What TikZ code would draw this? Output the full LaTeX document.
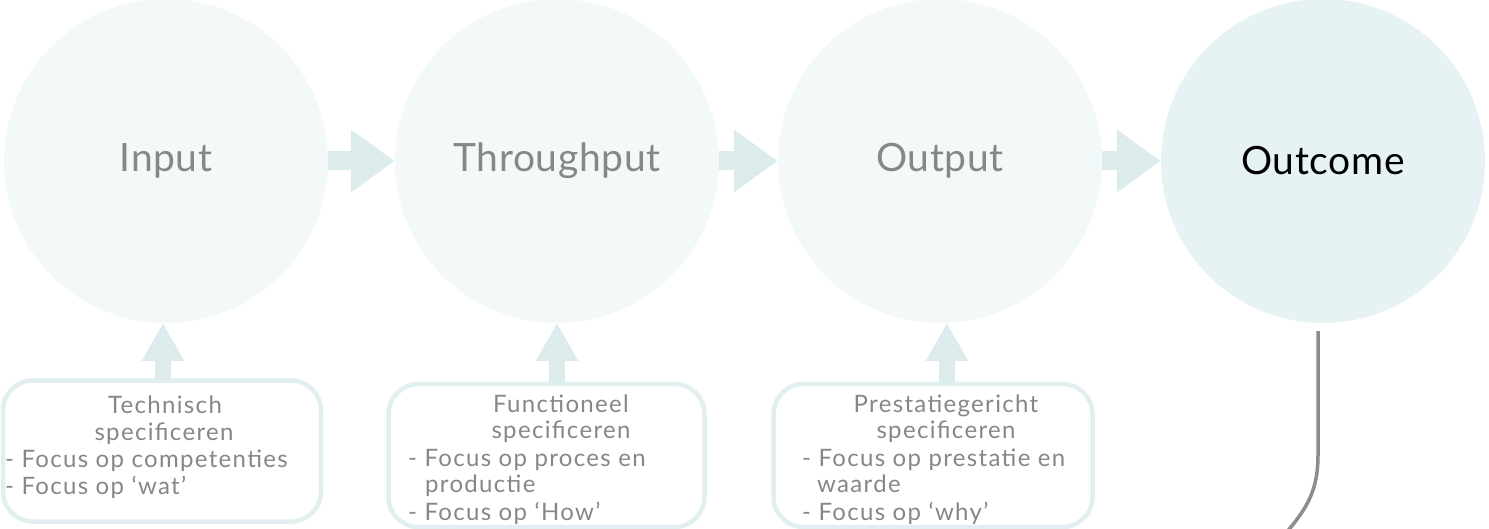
\documentclass[tikz,border=0pt]{standalone}
\usepackage{fontspec}
\setmainfont{Lato}
\newfontfamily\boxfont{Lato}[LetterSpace=5.5]
\newfontfamily\labfont{Lato}[LetterSpace=1.5]
\usetikzlibrary{arrows.meta,calc}
\definecolor{circlight}{HTML}{F3F9F9}
\definecolor{circdark}{HTML}{E6F2F3}
\definecolor{arrowc}{HTML}{DCECED}
\definecolor{boxline}{HTML}{E2EFF0}
\definecolor{txtgrey}{HTML}{878787}
\definecolor{linegrey}{HTML}{8C8C8C}
\tikzset{
  x=1pt, y=-1pt,
  circ/.style={circle, fill=circlight, minimum size=324pt, inner sep=0pt,
    text=txtgrey, font=\labfont\fontsize{39}{45}\selectfont},
  boxframe/.style={draw=boxline, line width=4.5pt, rounded corners=30pt, fill=white, inner sep=0pt},
  harrow/.style={draw=arrowc, line width=19pt, -{Triangle[length=44pt,width=60pt]}},
  varrow/.style={draw=arrowc, line width=16pt, -{Triangle[length=38pt,width=40pt]}},
  btxt/.style={text=txtgrey, font=\boxfont\fontsize{24}{27}\selectfont, inner sep=0pt},
}
\begin{document}
\begin{tikzpicture}
\useasboundingbox (0,0) rectangle (1489,529);
\clip (0,0) rectangle (1489,529);
% circles
\node[circ] (in)  at (166,161) {Input};
\node[circ] (thr) at (557,161) {Throughput};
\node[circ] (out) at (940,161) {Output};
\node[circ, fill=circdark, text=black] (oc) at (1323,161) {Outcome};
% horizontal arrows
\draw[harrow] (in.east) -- (thr.west);
\draw[harrow] (thr.east) -- (out.west);
\draw[harrow] (out.east) -- (oc.west);
% boxes
\node[boxframe, minimum width=318pt, minimum height=141pt] (b1) at (162,451) {};
\node[boxframe, minimum width=316pt, minimum height=143pt] (b2) at (546.5,455.5) {};
\node[boxframe, minimum width=319pt, minimum height=143pt] (b3) at (933,455.5) {};
% vertical arrows
\coordinate (a1) at (163,380);
\coordinate (a2) at (557,383);
\coordinate (a3) at (947,383);
\coordinate (t1) at (163,323);
\coordinate (t2) at (557,323);
\coordinate (t3) at (947,323);
\draw[varrow] (a1) -- (t1);
\draw[varrow] (a2) -- (t2);
\draw[varrow] (a3) -- (t3);
% box 1 text
\node[btxt, anchor=base] (b1t1) at (165,413) {Technisch};
\node[btxt, anchor=base] (b1t2) at (164,440) {specificeren};
\node[btxt, anchor=base west] (b1l1) at (5,467) {- Focus op competenties};
\node[btxt, anchor=base west] (b1l2) at (5,494) {- Focus op ‘wat’};
% box 2 text
\node[btxt, anchor=base] (b2t1) at (561,412) {Functioneel};
\node[btxt, anchor=base] (b2t2) at (561,438) {specificeren};
\node[btxt, anchor=base west] (b2l1) at (408,466) {- Focus op proces en};
\node[btxt, anchor=base west] (b2l2) at (425,492) {productie};
\node[btxt, anchor=base west] (b2l3) at (408,520) {- Focus op ‘How’};
% box 3 text
\node[btxt, anchor=base] (b3t1) at (946,412) {Prestatiegericht};
\node[btxt, anchor=base] (b3t2) at (946,438) {specificeren};
\node[btxt, anchor=base west] (b3l1) at (802,466) {- Focus op prestatie en};
\node[btxt, anchor=base west] (b3l2) at (817,492) {waarde};
\node[btxt, anchor=base west] (b3l3) at (802,520) {- Focus op ‘why’};
% outcome line
\coordinate (ocend) at (1280,540);
\draw[linegrey, line width=3.5pt] ($(oc.south)+(-5,8)$) -- (1318,455) .. controls (1318,495) and (1304,512) .. (ocend);
\end{tikzpicture}
\end{document}
